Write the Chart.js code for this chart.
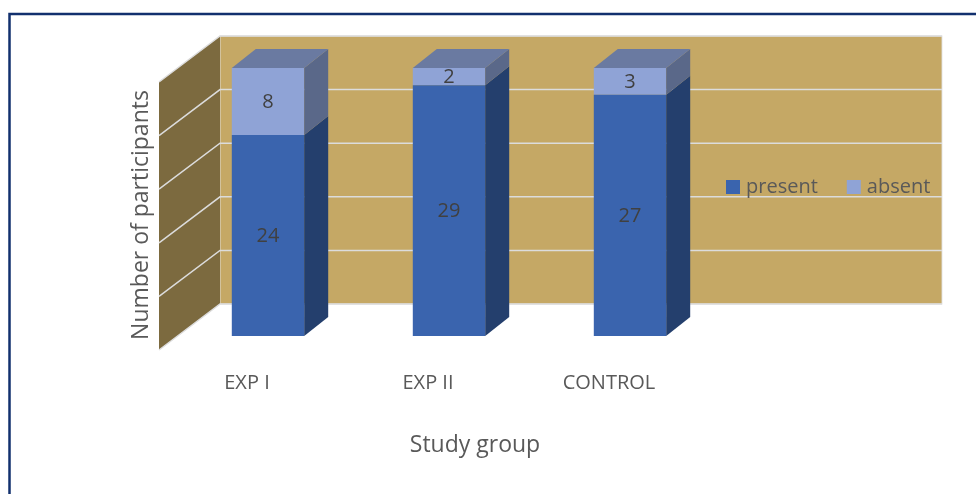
<!DOCTYPE html>
<html>
<head>
<meta charset="utf-8">
<title>Participants by study group</title>
<script src="https://cdn.jsdelivr.net/npm/chart.js@4.4.1/dist/chart.umd.min.js"></script>
<style>
    html, body { margin: 0; padding: 0; background: #ffffff; }
    canvas { display: block; }
</style>
</head>
<body>
<canvas id="groupChart" width="976" height="494"></canvas>
<script>
// groups and head counts
const groups = ['EXP I', 'EXP II', 'CONTROL']
const present = [24, 29, 27]
const absent = [8, 2, 3]
const seriesNames = ['present', 'absent']
const percentTicks = [0, 20, 40, 60, 80, 100]

// 100% stacked: each column is the share of its own group total
const toShare = (counts) => counts.map((c, i) => c / (present[i] + absent[i]) * 100)

const FONT = '"Open Sans", sans-serif'
const TEXT_GREY = '#595959'

//3d look: offsets of the back wall, the side wall front edge and the column depth
const BACK = { dx: 42.5, dy: -32 }
const FRONT = { dx: -18.5, dy: 14 }
const DEPTH = { dx: 24, dy: -19 }

const faces = [
    { front: '#3a64ae', side: '#243f6d', top: '#4d6aa0' },
    { front: '#8fa3d6', side: '#5a6889', top: '#6a7aa1' }
]

const polygon = (ctx, pts, fill) => {
    ctx.beginPath()
    ctx.moveTo(pts[0][0], pts[0][1])
    for (let i = 1; i < pts.length; i++) ctx.lineTo(pts[i][0], pts[i][1])
    ctx.closePath()
    ctx.fillStyle = fill
    ctx.fill()
}

const walls = {
    id: 'walls',
    beforeDatasetsDraw(chart) {
        const { ctx, chartArea: ca, scales: { y } } = chart
        const yTop = y.getPixelForValue(100)
        const yBottom = y.getPixelForValue(0)
        const wallL = ca.left + BACK.dx
        const wallR = chart.width - 34
        ctx.save()
        // back wall
        ctx.fillStyle = '#c5a865'
        ctx.fillRect(wallL, yTop + BACK.dy, wallR - wallL, yBottom - yTop)
        ctx.strokeStyle = 'rgba(225,225,225,0.9)'
        ctx.lineWidth = 1
        ctx.strokeRect(wallL, yTop + BACK.dy, wallR - wallL, yBottom - yTop)
        // side wall
        polygon(ctx, [
            [wallL, yTop + BACK.dy],
            [wallL, yBottom + BACK.dy],
            [ca.left + FRONT.dx, yBottom + FRONT.dy],
            [ca.left + FRONT.dx, yTop + FRONT.dy]
        ], '#7c6a3f')
        // gridlines on both walls
        ctx.strokeStyle = '#dcdcdc'
        ctx.lineWidth = 1.5
        percentTicks.forEach(v => {
            const py = y.getPixelForValue(v)
            ctx.beginPath()
            ctx.moveTo(ca.left + FRONT.dx, py + FRONT.dy)
            ctx.lineTo(wallL, py + BACK.dy)
            ctx.lineTo(wallR, py + BACK.dy)
            ctx.stroke()
        })
        ctx.restore()
    },
    afterDatasetsDraw(chart) {
        const { ctx } = chart
        const last = chart.data.datasets.length - 1
        ctx.save()
        // side and top faces of the columns
        chart.data.datasets.forEach((ds, di) => {
            chart.getDatasetMeta(di).data.forEach(bar => {
                const { x, y, base, width } = bar.getProps(['x', 'y', 'base', 'width'], true)
                const l = x - width / 2
                const r = x + width / 2
                polygon(ctx, [
                    [r, y], [r + DEPTH.dx, y + DEPTH.dy],
                    [r + DEPTH.dx, base + DEPTH.dy], [r, base]
                ], faces[di].side)
                if (di === last) {
                    polygon(ctx, [
                        [l, y], [l + DEPTH.dx, y + DEPTH.dy],
                        [r + DEPTH.dx, y + DEPTH.dy], [r, y]
                    ], faces[di].top)
                }
            })
        })
        // head counts on the front faces
        ctx.font = '20px ' + FONT
        ctx.fillStyle = '#404040'
        ctx.textAlign = 'center'
        ctx.textBaseline = 'middle'
        chart.data.datasets.forEach((ds, di) => {
            chart.getDatasetMeta(di).data.forEach((bar, i) => {
                const c = bar.getCenterPoint()
                ctx.fillText(String(ds.counts[i]), c.x, c.y + 1)
            })
        })
        ctx.restore()
    },
    afterDraw(chart) {
        const { ctx } = chart
        ctx.save()
        // legend, one row on the wall
        ctx.font = '20px ' + FONT
        ctx.textBaseline = 'middle'
        ctx.textAlign = 'left'
        let lx = 726
        const ly = 187
        chart.data.datasets.forEach(ds => {
            ctx.fillStyle = ds.backgroundColor
            ctx.fillRect(lx, ly - 7, 14, 14)
            ctx.fillStyle = TEXT_GREY
            ctx.fillText(ds.label, lx + 20, ly)
            lx += 20 + ctx.measureText(ds.label).width + 29
        })
        // axis titles
        ctx.font = '23px ' + FONT
        ctx.textAlign = 'center'
        ctx.fillText('Study group', 475, 445)
        ctx.translate(141, 215)
        ctx.rotate(-Math.PI / 2)
        ctx.fillText('Number of participants', 0, 0)
        ctx.restore()
        // frame
        ctx.save()
        ctx.strokeStyle = '#12306e'
        ctx.lineWidth = 2.5
        ctx.beginPath()
        ctx.moveTo(9.5, chart.height + 2)
        ctx.lineTo(9.5, 14)
        ctx.lineTo(chart.width + 2, 14)
        ctx.stroke()
        ctx.restore()
    }
}

const ctx = document.getElementById('groupChart').getContext('2d')
const groupChart = new Chart(ctx, {
    type: 'bar',
    data: {
        labels: groups,
        datasets: [{
            label: seriesNames[0],
            data: toShare(present),
            counts: present,
            backgroundColor: faces[0].front
        }, {
            label: seriesNames[1],
            data: toShare(absent),
            counts: absent,
            backgroundColor: faces[1].front
        }]
    },
    options: {
        responsive: false,
        devicePixelRatio: 1,
        animation: false,
        categoryPercentage: 1,
        barPercentage: 0.4,
        layout: {
            padding: { left: 177.5, right: 255.5, top: 68, bottom: 64 }
        },
        plugins: {
            legend: { display: false },
            tooltip: { enabled: false }
        },
        scales: {
            x: {
                stacked: true,
                grid: { display: false, drawTicks: false },
                border: { display: false },
                ticks: {
                    color: TEXT_GREY,
                    font: { family: FONT, size: 20 },
                    padding: 35,
                    labelOffset: -21
                }
            },
            y: {
                display: false,
                stacked: true,
                min: 0,
                max: 100,
                ticks: { stepSize: 20 }
            }
        }
    },
    plugins: [walls]
})
</script>
</body>
</html>
